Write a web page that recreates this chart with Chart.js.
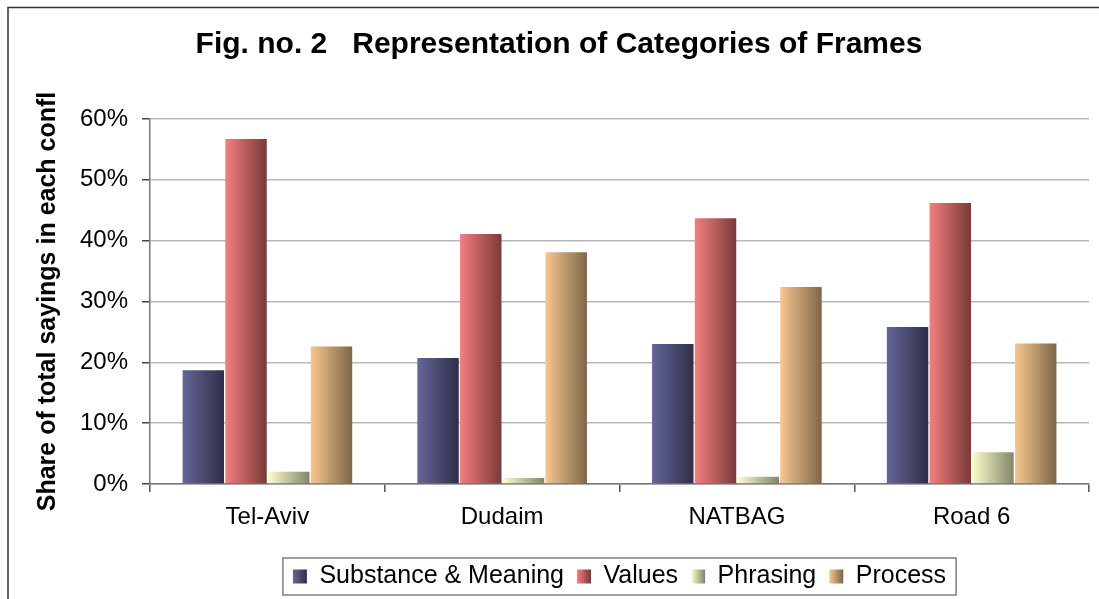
<!DOCTYPE html>
<html>
<head>
<meta charset="utf-8">
<script src="https://cdn.jsdelivr.net/npm/chart.js@4"></script>
<style>
    html, body { margin: 0; padding: 0; background: #fff; }
    #wrap { width: 1099px; height: 599px; }
</style>
</head>
<body>
<div id="wrap"><canvas id="barChart"></canvas></div>
<script>
    const categories = ['Tel-Aviv', 'Dudaim', 'NATBAG', 'Road 6'];
    const seriesNames = ['Substance & Meaning', 'Values', 'Phrasing', 'Process'];
    const substance = [18.7, 20.7, 23.0, 25.8];
    const values = [56.7, 41.1, 43.7, 46.2];
    const phrasing = [2.0, 1.0, 1.2, 5.2];
    const process = [22.6, 38.1, 32.4, 23.1];
    const yTicks = [0, 10, 20, 30, 40, 50, 60];

    const FONT = 'Arial, "Liberation Sans", sans-serif';
    const CAT_PCT = 0.728;

    // light -> dark, left to right across every bar
    const shades = [
        ['#666699', '#2e2e48', '#4a4a70'],
        ['#f58080', '#783838', '#c05858'],
        ['#ffffcc', '#80846a', '#d8d8a8'],
        ['#fac891', '#7c6446', '#c8a070']
    ];

    function gradient(c, x0, w, i) {
        const g = c.createLinearGradient(x0, 0, x0 + w, 0);
        g.addColorStop(0, shades[i][0]);
        g.addColorStop(1, shades[i][1]);
        return g;
    }

    function barFill(ctx) {
        const chart = ctx.chart;
        const x = chart.scales.x;
        if (!x || ctx.dataIndex === undefined || !chart.chartArea) {
            return shades[ctx.datasetIndex][2];
        }
        const center = x.getPixelForValue(ctx.dataIndex);
        const groupW = x.width / categories.length * CAT_PCT;
        const barW = groupW / seriesNames.length;
        const x0 = center - groupW / 2 + ctx.datasetIndex * barW;
        return gradient(chart.ctx, x0, barW, ctx.datasetIndex);
    }

    const frame = {
        id: 'frame',
        beforeDraw(chart) {
            const c = chart.ctx;
            c.save();
            c.fillStyle = '#fff';
            c.fillRect(0, 0, chart.width, chart.height);
            c.strokeStyle = '#333';
            c.lineWidth = 1.5;
            c.beginPath();
            c.moveTo(8, chart.height);
            c.lineTo(8, 7.5);
            c.lineTo(chart.width, 7.5);
            c.stroke();
            c.restore();
        }
    };

    // border round the legend, and gradient swatches like the bars
    const legendBox = {
        id: 'legendBox',
        afterDraw(chart) {
            const boxes = chart.legend.legendHitBoxes;
            if (!boxes || !boxes.length) return;
            const c = chart.ctx;
            c.save();
            boxes.forEach((hb, i) => {
                const top = hb.top + (hb.height - 14) / 2;
                c.fillStyle = '#fff';
                c.fillRect(hb.left - 1, top - 1, 16, 16);
                c.fillStyle = gradient(c, hb.left, 14, i);
                c.fillRect(hb.left, top, 14, 14);
            });
            const first = boxes[0];
            const last = boxes[boxes.length - 1];
            const left = first.left - 10;
            const right = last.left + last.width + 10;
            const mid = first.top + first.height / 2;
            c.strokeStyle = '#808080';
            c.lineWidth = 1.5;
            c.strokeRect(left, mid - 18.5, right - left, 37);
            c.restore();
        }
    };

    const data = {
        labels: categories,
        datasets: [substance, values, phrasing, process].map((d, i) => ({
            label: seriesNames[i],
            data: d,
            backgroundColor: barFill,
            borderWidth: 0,
            categoryPercentage: CAT_PCT,
            barPercentage: 0.97
        }))
    };

    new Chart(document.getElementById('barChart'), {
        type: 'bar',
        data,
        plugins: [frame, legendBox],
        options: {
            responsive: true,
            maintainAspectRatio: false,
            animation: false,
            layout: { padding: { left: 29, right: 10, top: 0, bottom: 0 } },
            plugins: {
                title: {
                    display: true,
                    text: 'Fig. no. 2   Representation of Categories of Frames',
                    color: '#000',
                    font: { family: FONT, size: 30, weight: 'bold' },
                    padding: { top: 27, bottom: 56 }
                },
                legend: {
                    position: 'bottom',
                    fullSize: false,
                    labels: {
                        color: '#000',
                        font: { family: FONT, size: 25 },
                        boxWidth: 14,
                        boxHeight: 14,
                        padding: 13
                    }
                },
                tooltip: { enabled: false }
            },
            scales: {
                x: {
                    grid: {
                        drawOnChartArea: false,
                        tickLength: 8,
                        tickColor: '#555',
                        lineWidth: 1.5
                    },
                    border: { color: '#777', width: 1.5 },
                    ticks: {
                        color: '#000',
                        font: { family: FONT, size: 24 },
                        padding: 11
                    },
                    afterFit(scale) { scale.height = 67; }
                },
                y: {
                    min: 0,
                    max: 60,
                    afterBuildTicks(scale) {
                        scale.ticks = yTicks.map(v => ({ value: v }));
                    },
                    grid: {
                        color: '#b8b8b8',
                        lineWidth: 1.5,
                        tickLength: 8,
                        tickColor: '#444'
                    },
                    border: { color: '#777', width: 1.5 },
                    ticks: {
                        color: '#000',
                        font: { family: FONT, size: 24 },
                        padding: 14,
                        callback: (v) => v + '%'
                    },
                    title: {
                        display: true,
                        text: 'Share of total sayings in each confl',
                        color: '#000',
                        font: { family: FONT, size: 25, weight: 'bold' },
                        padding: { top: 4, bottom: 4 }
                    },
                    afterFit(scale) { scale.width = 121; }
                }
            }
        }
    });
</script>
</body>
</html>
